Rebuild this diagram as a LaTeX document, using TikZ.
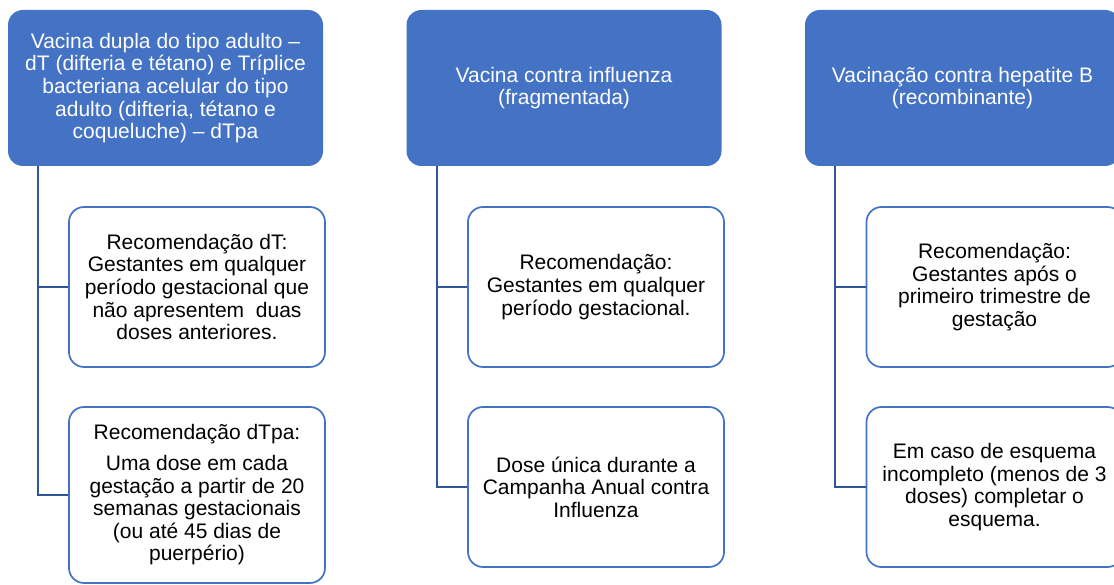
\documentclass[tikz,border=0pt]{standalone}
\usepackage{fontspec}
\setmainfont{Liberation Sans}
\definecolor{hdrblue}{HTML}{4472C4}
\definecolor{connblue}{HTML}{2F5597}
\begin{document}
\begin{tikzpicture}[x=1pt,y=-1pt,
  hdr/.style={draw=none, fill=hdrblue, rounded corners=15pt, minimum width=315pt, minimum height=156pt, align=center, text=white, font=\fontsize{21}{22.6}\selectfont, inner sep=4pt},
  child/.style={draw=hdrblue, line width=1.7pt, fill=white, rounded corners=15pt, minimum width=256pt, minimum height=160pt, align=center, text=black, font=\fontsize{21}{22.6}\selectfont, inner sep=4pt},
  conn/.style={draw=connblue, line width=2pt}]
\clip (0,0) rectangle (1114,585);
\fill[white] (0,0) rectangle (1114,585);

% column 1
\node[hdr] (t1) at (165.5,88) {Vacina dupla do tipo adulto –\\dT (difteria e tétano) e Tríplice\\bacteriana acelular do tipo\\adulto (difteria, tétano e\\coqueluche) – dTpa};
\node[child] (c11) at (197,287) {Recomendação dT:\\Gestantes em qualquer\\período gestacional que\\não apresentem\ \ duas\\doses anteriores.};
\node[child, minimum height=176pt] (c12) at (197,495) {Recomendação dTpa:\\[8pt]Uma dose em cada\\gestação a partir de 20\\semanas gestacionais\\(ou até 45 dias de\\puerpério)};
\coordinate (s1) at ([xshift=30pt]t1.south west);

% column 2
\node[hdr] (t2) at (564,88) {Vacina contra influenza\\(fragmentada)};
\node[child] (c21) at (596,287) {Recomendação:\\Gestantes em qualquer\\período gestacional.};
\node[child] (c22) at (596,487) {Dose única durante a\\Campanha Anual contra\\Influenza};
\coordinate (s2) at ([xshift=31pt]t2.south west);

% column 3
\node[hdr] (t3) at (962.5,88) {Vacinação contra hepatite B\\(recombinante)};
\node[child] (c31) at (994.5,287) {Recomendação:\\Gestantes após o\\primeiro trimestre de\\gestação};
\node[child] (c32) at (994.5,487) {Em caso de esquema\\incompleto (menos de 3\\doses) completar o\\esquema.};
\coordinate (s3) at ([xshift=30pt]t3.south west);

% connectors
\draw[conn] (s1) |- (c11.west);
\draw[conn] (s1) |- (c12.west);
\draw[conn] (s2) |- (c21.west);
\draw[conn] (s2) |- (c22.west);
\draw[conn] (s3) |- (c31.west);
\draw[conn] (s3) |- (c32.west);
\end{tikzpicture}
\end{document}
